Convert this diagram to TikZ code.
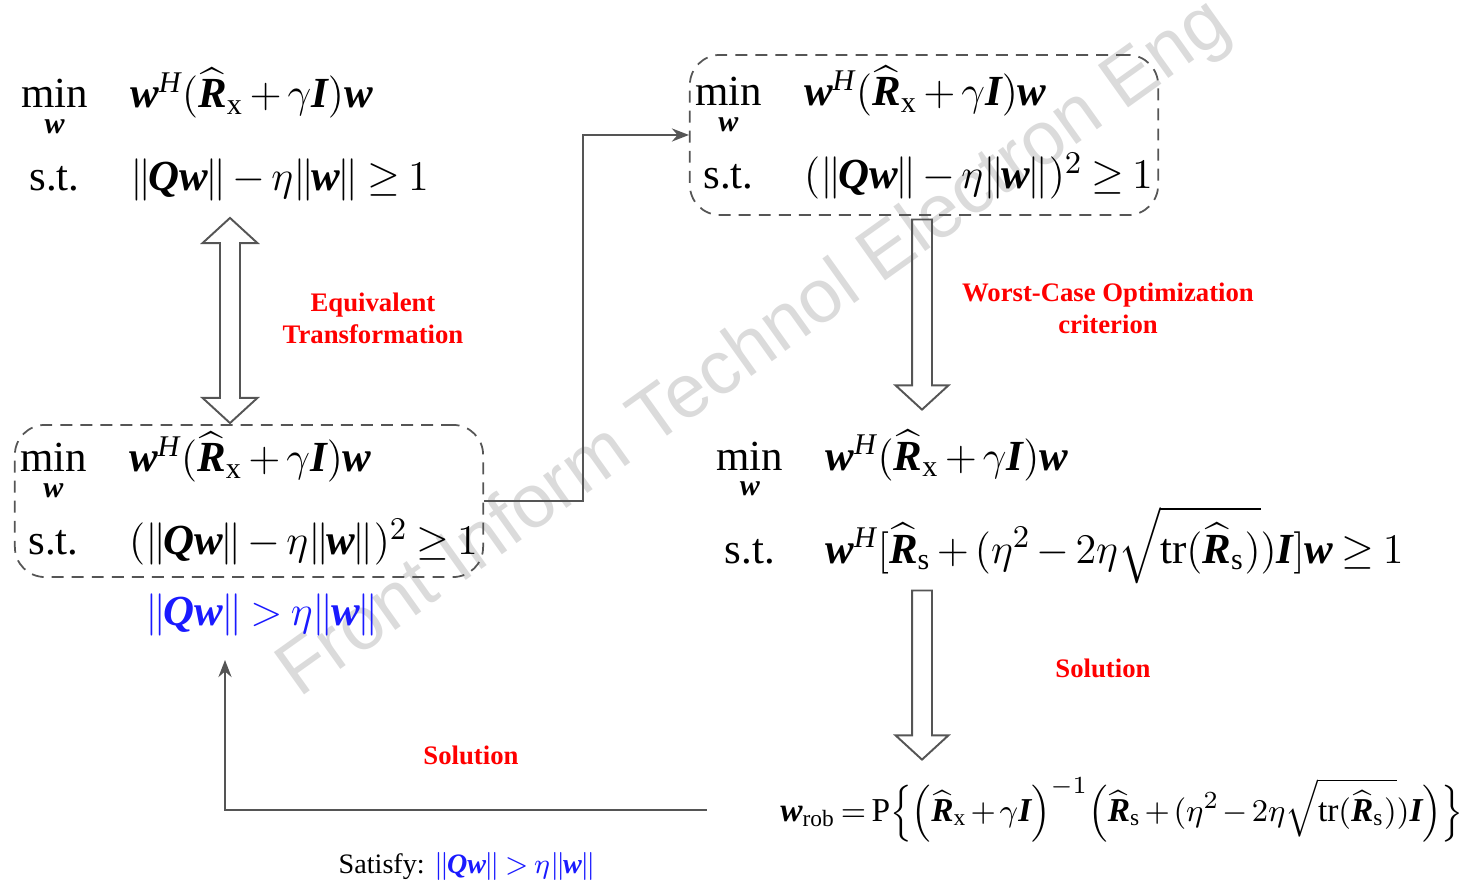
\documentclass[tikz,border=0pt]{standalone}
\usepackage{fontspec}
\setmainfont{Liberation Serif}
\newfontfamily\markfont{Liberation Sans}
\usepackage{amsmath}
\usepackage{xcolor}
\usetikzlibrary{arrows.meta,positioning,calc,shapes.arrows}
\definecolor{linegray}{HTML}{555555}
\definecolor{labelred}{HTML}{FF0000}
\definecolor{condblue}{HTML}{1A1AFF}
\newcommand{\vb}[1]{\text{\bfseries\itshape #1}}
\newcommand{\norm}[1]{\|\mkern-1.2mu#1\mkern-1mu\|}
\newcommand{\Rh}[1]{\widehat{\vb{R}}_{\mathrm{#1}}}
\newcommand{\minw}{$\min\limits_{\vb{w}}$}
\newcommand{\objective}{$\vb{w}^{\textit{H}}(\Rh{x}+\gamma\vb{I})\vb{w}$}
\newcommand{\sqconstr}{$(\norm{\vb{Qw}}-\eta\norm{\vb{w}})^{2}\geq 1$}
\newcommand{\normcond}{$\norm{\vb{Qw}}>\eta\norm{\vb{w}}$}
\medmuskip=2.5mu plus 1mu minus 1mu
\thickmuskip=3.5mu plus 2mu

\begin{document}
\begin{tikzpicture}[x=0.01cm, y=-0.01cm,
    formula/.style={font=\fontsize{12.2}{14.6}\selectfont, inner sep=0pt},
    dashbox/.style={formula, draw=linegray, line width=0.5pt, dash pattern=on 3.4pt off 2.3pt, rounded corners=0.3cm, minimum width=4.68cm},
    hollow/.style={draw=linegray, line width=0.55pt, inner xsep=0pt, inner ysep=0.09cm},
    flow/.style={draw=linegray, line width=0.75pt, -{Stealth[length=0.17cm, width=0.13cm]}},
    redlabel/.style={font=\fontsize{7.6}{9.1}\selectfont\bfseries, text=labelred, align=center},
    wmark/.style={font=\markfont\fontsize{21.5}{25}\selectfont, text=black!14, rotate=35.5}
]
\useasboundingbox (0,0) rectangle (1484,886);
\node[wmark] (mark) at (755,350) {Front Inform Technol Electron Eng};

% the three forms of the problem
\node[formula] (eqA) at (225,137) {\begin{tabular}{@{}c@{\hspace{12pt}}l@{}}
\minw & \objective \\[9pt]
s.t. & $\norm{\vb{Qw}}-\eta\norm{\vb{w}}\geq 1$
\end{tabular}};
\node[dashbox, minimum height=1.52cm] (eqB) at (249,501) {\begin{tabular}{@{}c@{\hspace{12pt}}l@{}}
\minw & \objective \\[9pt]
s.t. & \sqconstr
\end{tabular}};
\node[dashbox, minimum height=1.6cm] (eqC) at (924,135) {\begin{tabular}{@{}c@{\hspace{12pt}}l@{}}
\minw & \objective \\[9pt]
s.t. & \sqconstr
\end{tabular}};
\node[formula] (eqD) at (1060,507) {\begin{tabular}{@{}c@{\hspace{12pt}}l@{}}
\minw & \objective \\[6pt]
s.t. & $\vb{w}^{\textit{H}}[\Rh{s}+(\eta^{2}-2\eta\sqrt{\mathrm{tr}(\Rh{s})})\vb{I}]\vb{w}\geq 1$
\end{tabular}};
\node[formula, font=\fontsize{9.5}{12}\selectfont] (wrob) at (1122,810)
  {$\medmuskip=2mu\relax\thickmuskip=3mu\relax
   \vb{w}_{\mathrm{rob}}=\mathrm{P}\Bigl\{\Bigl(\Rh{x}+\gamma\vb{I}\Bigr)^{-1}\Bigl(\Rh{s}+(\eta^{2}-2\eta\sqrt{\mathrm{tr}(\Rh{s})})\vb{I}\Bigr)\Bigr\}$};
\node[formula, text=condblue] (cond) at (262,615) {\normcond};

% block arrows
\node[hollow, double arrow, double arrow head extend=0.175cm, double arrow tip angle=95, minimum height=2.05cm, rotate=90] (equiv) at (230,320.5) {};
\node[hollow, single arrow, single arrow head extend=0.165cm, single arrow tip angle=95, minimum height=1.9cm, rotate=-90] (worst) at (922,310) {};
\node[hollow, single arrow, single arrow head extend=0.165cm, single arrow tip angle=95, minimum height=1.69cm, rotate=-90] (solve) at (922,670.5) {};

\node[redlabel] (equivLab) at (373,318) {Equivalent\\Transformation};
\node[redlabel] (worstLab) at (1108,308) {Worst-Case Optimization\\criterion};
\node[redlabel] (solveLab) at (1103,668) {Solution};
\node[redlabel] (backLab) at (471,755) {Solution};
\node[font=\fontsize{8}{10}\selectfont, inner sep=0pt] (satLab) at (467,866)
  {Satisfy: \textcolor{condblue}{\normcond}};

\draw[flow] (eqB.east) -- ++(99,0) |- (eqC.west);
\coordinate (condIn) at (225,660);
\draw[flow] ([xshift=-0.73cm]wrob.west) -| (condIn);
\end{tikzpicture}
\end{document}
